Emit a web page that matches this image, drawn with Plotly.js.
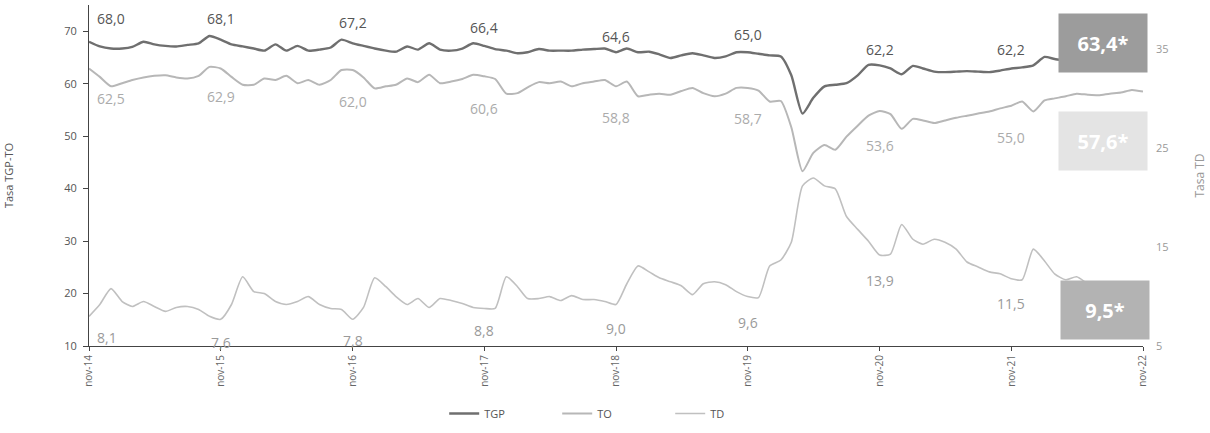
<!DOCTYPE html>
<html>
<head>
<meta charset="utf-8">
<script src="https://cdn.plot.ly/plotly-3.0.1.min.js"></script>
<style>
html,body{margin:0;padding:0;background:#fff;}
#chart{width:1210px;height:433px;}
</style>
</head>
<body>
<div id="chart"></div>
<script>
// Monthly series, nov-14 .. nov-22 (97 months)
const startYear = 2014, startMonth = 11, nMonths = 97;

const tgp = [68.0,67.1,66.7,66.7,67.0,68.0,67.5,67.2,67.1,67.4,67.7,69.1,68.4,67.5,67.1,66.7,66.3,67.5,66.3,67.2,66.3,66.5,66.9,68.4,
  67.7,67.2,66.7,66.3,66.1,67.1,66.5,67.7,66.5,66.3,66.7,67.7,67.2,66.6,66.3,65.8,66.0,66.6,66.3,66.3,66.3,66.5,66.6,66.7,
  66.0,66.7,66.0,66.1,65.6,64.9,65.4,65.8,65.4,64.9,65.2,66.0,66.0,65.7,65.4,65.2,61.6,54.3,57.3,59.5,59.8,60.1,61.6,63.6,
  63.5,62.9,61.8,63.4,62.9,62.3,62.2,62.3,62.4,62.3,62.2,62.5,62.9,63.1,63.5,65.1,64.7,64.4,64.1,63.8,64.3,63.6,64.0,63.5,63.4];

const to = [62.9,61.3,59.5,60.1,60.7,61.2,61.5,61.6,61.2,61.0,61.5,63.2,62.9,61.3,59.8,59.8,61.0,60.7,61.5,60.1,60.7,59.8,60.7,62.6,
  62.6,61.2,59.1,59.5,59.8,61.0,60.3,61.7,60.1,60.4,60.9,61.7,61.4,60.9,58.1,58.2,59.3,60.3,60.1,60.4,59.5,60.1,60.4,60.7,
  59.5,60.4,57.6,57.9,58.1,57.9,58.6,59.2,58.2,57.6,58.1,59.2,59.2,58.7,56.6,56.7,51.7,43.3,46.8,48.3,47.4,49.9,52.0,53.9,
  54.8,54.2,51.4,53.3,53.0,52.5,53.0,53.5,53.9,54.3,54.7,55.3,55.8,56.6,54.7,56.8,57.2,57.6,58.1,57.9,57.8,58.1,58.3,58.8,58.5];

const td = [8.0,9.2,10.8,9.5,9.0,9.5,9.0,8.5,8.9,9.0,8.7,8.0,7.7,9.2,12.0,10.5,10.3,9.5,9.2,9.5,10.0,9.2,8.8,8.7,
  7.7,8.9,11.9,11.0,10.0,9.2,9.8,8.9,9.8,9.6,9.3,8.9,8.8,8.8,12.0,11.0,9.8,9.8,10.0,9.6,10.1,9.7,9.7,9.5,
  9.2,11.3,13.1,12.5,11.9,11.5,11.1,10.2,11.3,11.5,11.2,10.5,10.0,9.9,13.1,13.7,15.5,21.2,22.0,21.2,20.9,18.1,16.8,15.6,
  14.2,14.3,17.3,15.8,15.3,15.8,15.5,14.8,13.5,13.0,12.5,12.3,11.8,11.7,14.8,13.6,12.3,11.7,12.0,11.3,10.8,11.0,10.3,10.0,9.5];

// November labels
const tickLabels = ['nov-14','nov-15','nov-16','nov-17','nov-18','nov-19','nov-20','nov-21','nov-22'];
const tgpLabels = [68.0,68.1,67.2,66.4,64.6,65.0,62.2,62.2];
const toLabels  = [62.5,62.9,62.0,60.6,58.8,58.7,53.6,55.0];
const tdLabels  = [8.1,7.6,7.8,8.8,9.0,9.6,13.9,11.5];
const lastTGP = 63.4, lastTO = 57.6, lastTD = 9.5;

function pad(n){return (n<10?'0':'')+n;}
const dates = [];
for (let i=0;i<nMonths;i++){
  const t = (startMonth-1)+i;
  const y = startYear + Math.floor(t/12), m = (t%12)+1;
  dates.push(y+'-'+pad(m)+'-01');
}
const novDates = tickLabels.map(s => '20'+s.slice(4)+'-11-01');
const fmt = v => v.toFixed(1).replace('.', ',');

const FONT = 'Open Sans, Noto Sans, sans-serif';
const cTGP = '#6f6f6f', cTO = '#b7b7b7', cTD = '#c0c0c0';

const traces = [
  {x:dates, y:tgp, name:'TGP', type:'scatter', mode:'lines', line:{color:cTGP, width:2.4, shape:'spline', smoothing:0.6}},
  {x:dates, y:to,  name:'TO',  type:'scatter', mode:'lines', line:{color:cTO, width:2, shape:'spline', smoothing:0.6}},
  {x:dates, y:td,  name:'TD',  type:'scatter', mode:'lines', yaxis:'y2', line:{color:cTD, width:1.6, shape:'spline', smoothing:0.6}}
];

const ann = [];
function addLabels(vals, yref, color, shift){
  vals.forEach((v,i)=>{
    ann.push({x:novDates[i], y:v, xref:'x', yref:yref, text:fmt(v), showarrow:false,
      xanchor: i===0 ? 'left' : 'center', xshift: i===0 ? 6 : 0, yshift:shift,
      font:{family:FONT, size:14, color:color}});
  });
}
addLabels(tgpLabels, 'y', '#555555', 23);
addLabels(toLabels, 'y', '#ababab', -28);
addLabels(tdLabels, 'y2', '#9a9a9a', -22);

function box(text, xp, yp, bg){
  ann.push({x:xp, y:yp, xref:'paper', yref:'paper', text:'<b>'+text+'</b>', showarrow:false,
    xanchor:'center', yanchor:'middle', width:86, height:56, bgcolor:bg,
    font:{family:FONT, size:20, color:'#ffffff'}});
}
box(fmt(lastTGP)+'*', 0.962, 0.890, '#9c9c9c');
box(fmt(lastTO)+'*', 0.962, 0.600, '#e4e4e4');
box(fmt(lastTD)+'*', 0.964, 0.107, '#b3b3b3');

const layout = {
  width:1210, height:433,
  margin:{l:89, r:67, t:5, b:79},
  paper_bgcolor:'#ffffff', plot_bgcolor:'#ffffff',
  font:{family:FONT, color:'#555'},
  showlegend:true,
  legend:{orientation:'h', x:0.337, xanchor:'left', y:-0.198, yanchor:'middle',
    font:{family:FONT, size:11, color:'#555'}, itemwidth:30, entrywidth:68, entrywidthmode:'pixels'},
  xaxis:{type:'date', range:[novDates[0], novDates[novDates.length-1]],
    tickvals:novDates, ticktext:tickLabels, tickangle:-90,
    showgrid:false, zeroline:false, showline:true, linecolor:'#444', linewidth:1,
    ticks:'outside', ticklen:4, tickcolor:'#444',
    tickfont:{family:FONT, size:10, color:'#666'}},
  yaxis:{range:[10,75], tickvals:[10,20,30,40,50,60,70], showgrid:false, zeroline:false,
    showline:true, linecolor:'#444', linewidth:1, ticks:'outside', ticklen:5, tickcolor:'#444',
    ticklabelstandoff:4,
    tickfont:{family:FONT, size:11, color:'#555'},
    title:{text:'Tasa TGP-TO', standoff:48, font:{family:FONT, size:11, color:'#555'}}},
  yaxis2:{overlaying:'y', side:'right', range:[5,39.5], tickvals:[5,15,25,35],
    showgrid:false, zeroline:false, showline:false, ticks:'', ticklabelstandoff:12,
    tickfont:{family:FONT, size:11, color:'#999'},
    title:{text:'Tasa TD', standoff:28, font:{family:FONT, size:12, color:'#999'}}},
  annotations: ann
};

Plotly.newPlot('chart', traces, layout, {staticPlot:true, displayModeBar:false});
</script>
</body>
</html>
